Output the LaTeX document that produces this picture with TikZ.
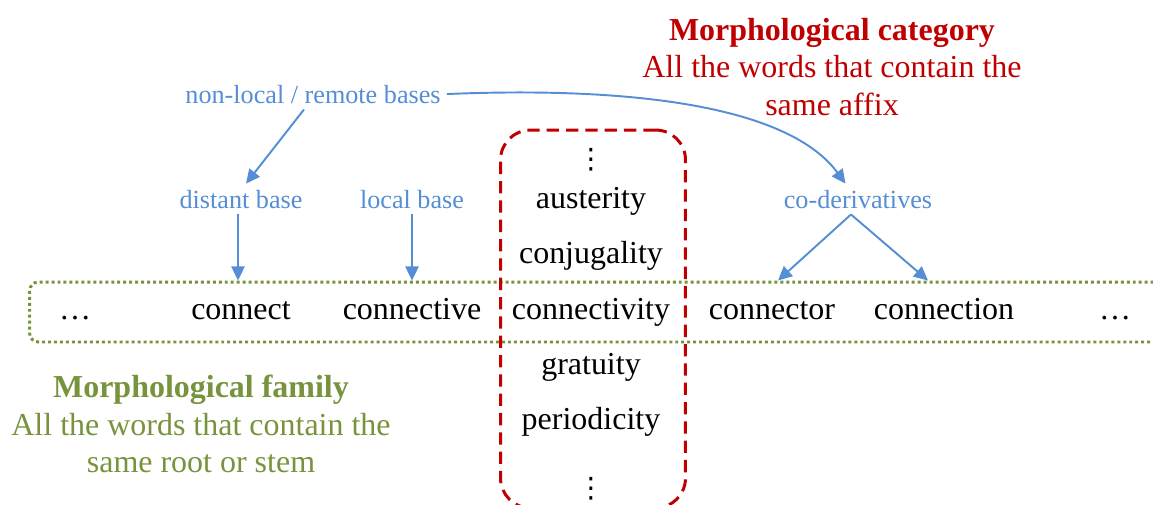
\documentclass[tikz,border=0pt]{standalone}
\usepackage{fontspec}
\setmainfont{Liberation Serif}
\newfontfamily\dotsfont{DejaVu Sans}
\usetikzlibrary{arrows.meta}
\definecolor{catred}{HTML}{C00000}
\definecolor{famgreen}{HTML}{77933C}
\definecolor{baseblue}{HTML}{558ED5}
\newcommand{\wordsize}{\fontsize{18.2}{21.3}\selectfont}
\newcommand{\basesize}{\fontsize{14.9}{18}\selectfont}

\begin{document}
\begin{tikzpicture}[x=0.02cm,y=-0.02cm,>={Triangle[length=8pt,width=7.5pt]},
    word/.style={font=\wordsize, anchor=base},
    base/.style={font=\basesize, text=baseblue, anchor=base},
    link/.style={->, draw=baseblue, line width=1.1pt}]
  \useasboundingbox (0,0) rectangle (1153,504);
  \clip (0,0) rectangle (1153,504);

  % Boxes
  \node[draw=famgreen, line width=1.7pt, dash pattern=on 1.7pt off 1.7pt, rounded corners=5pt, minimum width=22.9cm, minimum height=1.2cm] (row) at (602,312) {};
  \node[draw=catred, line width=1.7pt, dash pattern=on 7pt off 4pt, rounded corners=17pt, minimum width=3.7cm, minimum height=7.56cm] (column) at (593,319) {};

  % Family row
  \node[word] (dotsL)        at (75,319)   {…};
  \node[word] (connect)      at (241,319)  {connect};
  \node[word] (connective)   at (412,319)  {connective};
  \node[word] (connectivity) at (591,319)  {connectivity};
  \node[word] (connector)    at (772,319)  {connector};
  \node[word] (connection)   at (944,319)  {connection};
  \node[word] (dotsR)        at (1115,319) {…};

  % Category column
  \node[word] (vdotsT)      at (591,168) {\dotsfont\fontsize{16}{18}\selectfont ⋮};
  \node[word] (austerity)   at (591,208) {austerity};
  \node[word] (conjugality) at (591,263) {conjugality};
  \node[word] (gratuity)    at (591,374) {gratuity};
  \node[word] (periodicity) at (591,429) {periodicity};
  \node[word] (vdotsB)      at (591,497) {\dotsfont\fontsize{16}{18}\selectfont ⋮};

  % Bases
  \node[base] (remote)  at (313,103) {non-local / remote bases};
  \node[base] (distant) at (241,208) {distant base};
  \node[base] (local)   at (412,208) {local base};
  \node[base] (coder)   at (858,208) {co-derivatives};

  \draw[link] ([xshift=-0.18cm]remote.south) -- ([xshift=0.1cm]distant.north);
  \draw[link] (remote.east) .. controls (640,86) and (790,108) .. ([xshift=-0.25cm]coder.north);
  \draw[link] ([xshift=-0.06cm]distant.south) -- ([xshift=-0.06cm]distant.south |- row.north);
  \draw[link] (local.south) -- (local.south |- row.north);
  \draw[link] ([xshift=-0.14cm]coder.south) -- ([xshift=0.12cm]connector.north |- row.north);
  \draw[link] ([xshift=-0.14cm]coder.south) -- ([xshift=-0.32cm]connection.north |- row.north);

  % Annotations
  \node[word, text=catred, align=center, anchor=center] (category) at (832,67) {\textbf{Morphological category}\\All the words that contain the\\same affix};
  \node[word, text=famgreen, align=center, anchor=center] (family) at (201,424) {\textbf{Morphological family}\\All the words that contain the\\same root or stem};
\end{tikzpicture}
\end{document}
